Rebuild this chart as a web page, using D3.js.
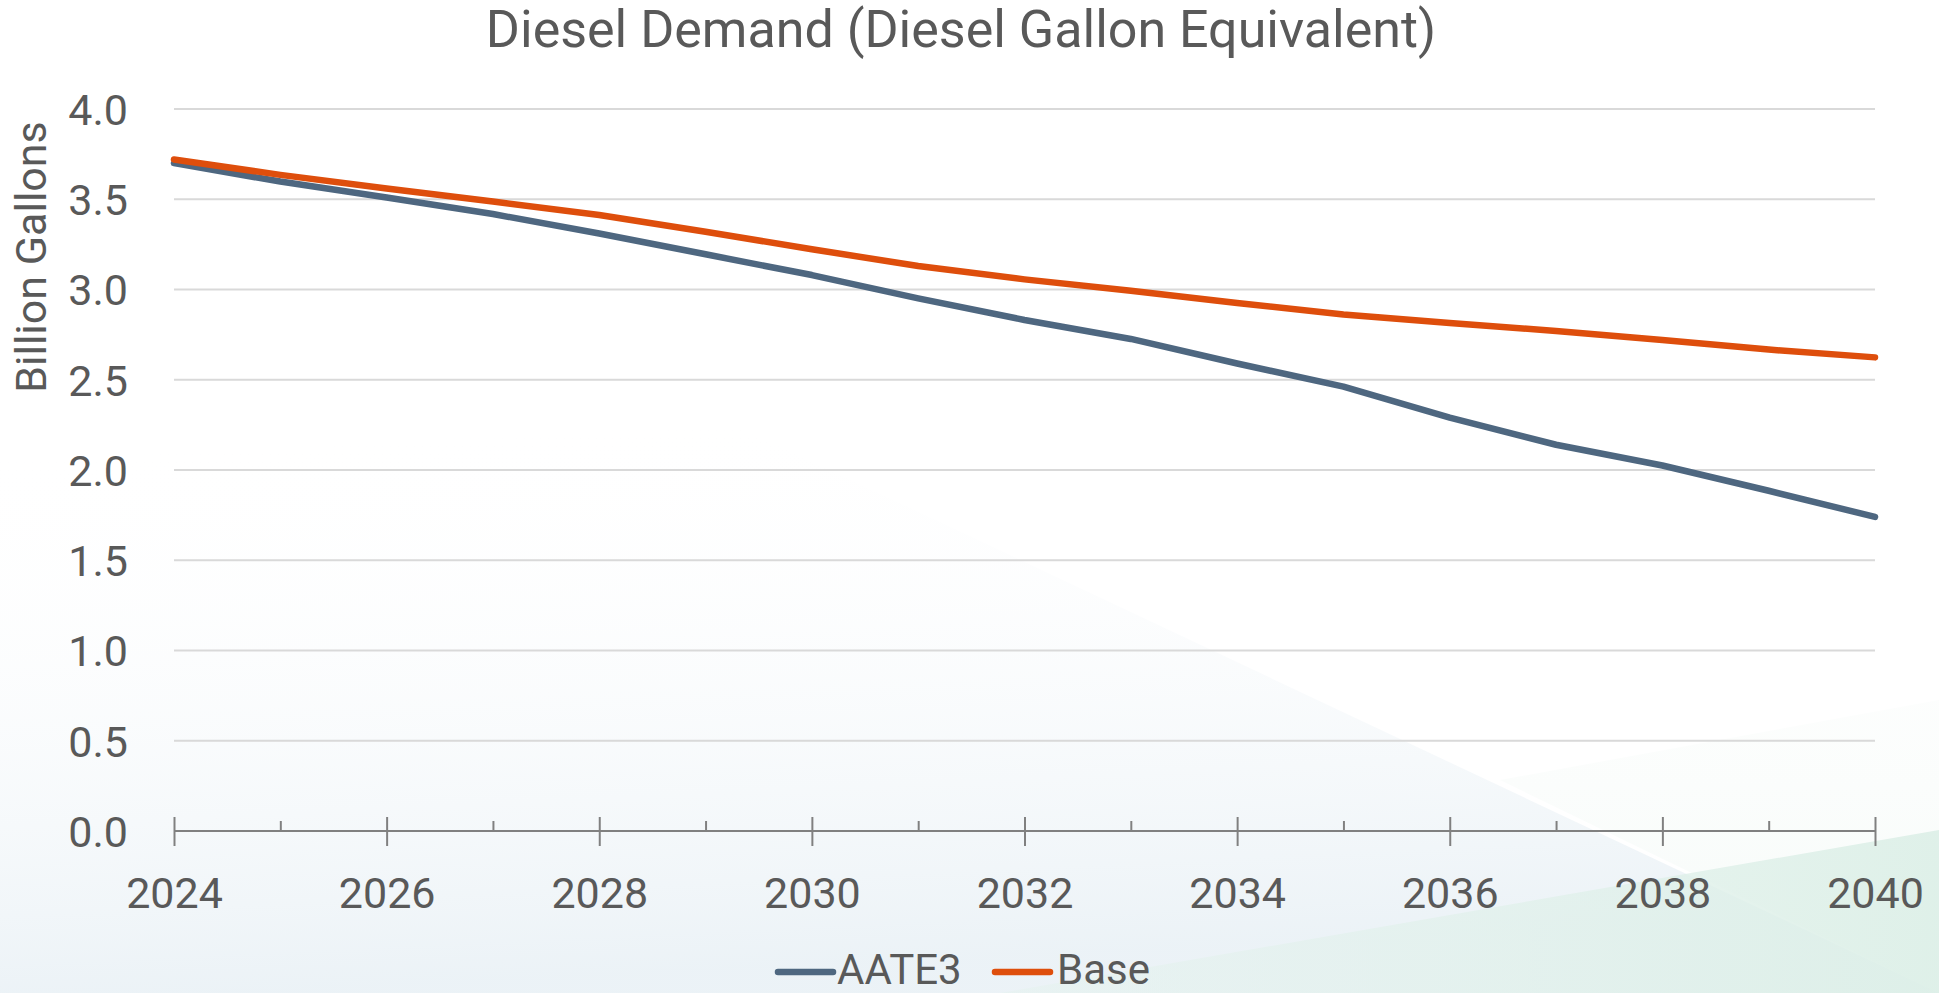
<!DOCTYPE html>
<html>
<head>
<meta charset="utf-8">
<script src="https://cdn.jsdelivr.net/npm/d3@7"></script>
<style>
  html, body { margin: 0; padding: 0; background: #ffffff; }
  svg { display: block; }
  text { font-family: Roboto, "Noto Sans", sans-serif; fill: #595959; }
</style>
</head>
<body>
<svg id="chart" width="1939" height="993"></svg>
<script>
// ---- Data ----
const years = [2024, 2025, 2026, 2027, 2028, 2029, 2030, 2031, 2032, 2033, 2034, 2035, 2036, 2037, 2038, 2039, 2040];
const aate3 = [3.70, 3.598, 3.51, 3.418, 3.31, 3.195, 3.08, 2.951, 2.831, 2.726, 2.59, 2.462, 2.29, 2.14, 2.025, 1.885, 1.74];
const base  = [3.72, 3.635, 3.56, 3.487, 3.413, 3.32, 3.223, 3.13, 3.056, 2.993, 2.925, 2.862, 2.815, 2.77, 2.72, 2.667, 2.624];
const seriesNames = ["AATE3", "Base"];
const seriesColors = ["#4E6780", "#DE4E0C"];
const yTicks = [0, 0.5, 1.0, 1.5, 2.0, 2.5, 3.0, 3.5, 4.0];
const xMajorTicks = [2024, 2026, 2028, 2030, 2032, 2034, 2036, 2038, 2040];
const xMinorTicks = [2025, 2027, 2029, 2031, 2033, 2035, 2037, 2039];
const titleText = "Diesel Demand (Diesel Gallon Equivalent)";
const yTitleText = "Billion Gallons";

// ---- Layout ----
const W = 1939, H = 993;
const svg = d3.select("#chart");

// background decoration
const defs = svg.append("defs");
const g1 = defs.append("linearGradient").attr("id", "bgA")
  .attr("x1", "0").attr("y1", "0").attr("x2", "0.1").attr("y2", "1");
g1.append("stop").attr("offset", "0.4").attr("stop-color", "#ffffff").attr("stop-opacity", 0);
g1.append("stop").attr("offset", "1").attr("stop-color", "#e8f0f5").attr("stop-opacity", 1);
const g2 = defs.append("linearGradient").attr("id", "bgB")
  .attr("x1", "0").attr("y1", "0").attr("x2", "1").attr("y2", "0");
g2.append("stop").attr("offset", "0").attr("stop-color", "#e4f2ed").attr("stop-opacity", 0.5);
g2.append("stop").attr("offset", "1").attr("stop-color", "#dcefe7").attr("stop-opacity", 1);
const g3 = defs.append("linearGradient").attr("id", "bgC")
  .attr("x1", "0").attr("y1", "0").attr("x2", "0").attr("y2", "1");
g3.append("stop").attr("offset", "0").attr("stop-color", "#f3f9f6").attr("stop-opacity", 0.4);
g3.append("stop").attr("offset", "1").attr("stop-color", "#ecf6f1").attr("stop-opacity", 1);

svg.append("rect").attr("width", W).attr("height", H).attr("fill", "#ffffff");
svg.append("path").attr("d", `M0,79 L${W},${H} L0,${H} Z`).attr("fill", "url(#bgA)").attr("opacity", 0.85);
svg.append("path").attr("d", `M1500,780 L${W},700 L${W},${H} Z`).attr("fill", "url(#bgC)").attr("opacity", 0.5);
svg.append("path").attr("d", `M1000,${H} L${W},830 L${W},${H} Z`).attr("fill", "url(#bgB)").attr("opacity", 0.9);

const x = d3.scaleLinear().domain([2024, 2040]).range([174, 1875]);
const y = d3.scaleLinear().domain([0, 4]).range([831, 109]);

// title
svg.append("text")
  .attr("x", 961).attr("y", 47)
  .attr("text-anchor", "middle")
  .style("font-size", "52px")
  .text(titleText);

// y-axis title
svg.append("text")
  .attr("transform", "translate(46,257) rotate(-90)")
  .attr("text-anchor", "middle")
  .style("font-size", "43px")
  .text(yTitleText);

// gridlines
svg.append("g").selectAll("line")
  .data(yTicks.filter(d => d > 0))
  .join("line")
  .attr("x1", x(2024)).attr("x2", x(2040))
  .attr("y1", d => y(d)).attr("y2", d => y(d))
  .attr("stroke", "#d9d9d9").attr("stroke-width", 2);

// y axis labels
const yAxis = d3.axisLeft(y).tickValues(yTicks).tickSize(0).tickPadding(0)
  .tickFormat(d3.format(".1f"));
const gy = svg.append("g").attr("transform", "translate(128,0)").call(yAxis);
gy.select(".domain").remove();
gy.selectAll("text").style("font-size", "43px").attr("fill", "#595959")
  .attr("dy", "0.36em").style("font-family", "Roboto, sans-serif");

// x axis: minor ticks
const xMinor = d3.axisBottom(x).tickValues(xMinorTicks).tickSize(0).tickFormat("");
const gxm = svg.append("g").attr("transform", `translate(0,${y(0)})`).call(xMinor);
gxm.select(".domain").remove();
gxm.selectAll(".tick line").attr("y1", 0).attr("y2", -10)
  .attr("stroke", "#808080").attr("stroke-width", 2);

// x axis: major ticks + labels
const xMajor = d3.axisBottom(x).tickValues(xMajorTicks).tickSize(15).tickPadding(0)
  .tickFormat(d3.format("d"));
const gx = svg.append("g").attr("transform", `translate(0,${y(0)})`).call(xMajor);
gx.select(".domain").attr("stroke", "#808080").attr("stroke-width", 2)
  .attr("d", `M${x(2024)},0H${x(2040)}`);
gx.selectAll(".tick line").attr("y1", -14).attr("y2", 15)
  .attr("stroke", "#808080").attr("stroke-width", 2);
gx.selectAll(".tick text").style("font-size", "43px").attr("fill", "#595959")
  .attr("y", 77).attr("dy", 0).style("font-family", "Roboto, sans-serif");

// lines
const seriesData = [aate3, base];
const line = d3.line().x((d, i) => x(years[i])).y(d => y(d));
svg.append("g").selectAll("path")
  .data(seriesData)
  .join("path")
  .attr("d", d => line(d))
  .attr("fill", "none")
  .attr("stroke", (d, i) => seriesColors[i])
  .attr("stroke-width", 6.5)
  .attr("stroke-linejoin", "round")
  .attr("stroke-linecap", "round");

// legend
const legendItems = [
  { name: seriesNames[0], color: seriesColors[0], lx: 778, tx: 837 },
  { name: seriesNames[1], color: seriesColors[1], lx: 995, tx: 1057 }
];
const lg = svg.append("g");
legendItems.forEach(it => {
  lg.append("line").attr("x1", it.lx).attr("x2", it.lx + 55)
    .attr("y1", 972).attr("y2", 972)
    .attr("stroke", it.color).attr("stroke-width", 6.5).attr("stroke-linecap", "round");
  lg.append("text").attr("x", it.tx).attr("y", 984)
    .style("font-size", "42px").text(it.name);
});
</script>
</body>
</html>
